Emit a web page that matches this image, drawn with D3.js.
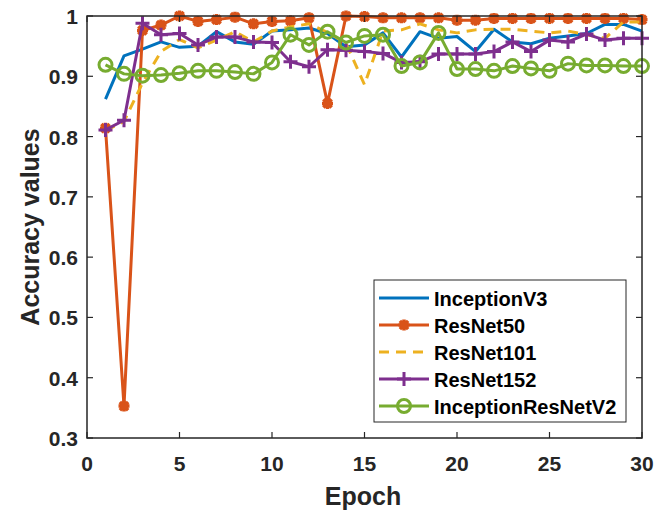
<!DOCTYPE html>
<html><head><meta charset="utf-8">
<script src="https://cdn.jsdelivr.net/npm/d3@7"></script>
<style>body{margin:0;background:#fff}svg{display:block}</style>
</head><body>
<svg id="c" width="656" height="518"></svg>
<script>
const epochs = d3.range(1, 31);
const inceptionV3 = [0.862,0.934,0.945,0.957,0.948,0.950,0.974,0.957,0.953,0.975,0.977,0.980,0.971,0.949,0.952,0.972,0.932,0.974,0.963,0.966,0.941,0.978,0.957,0.954,0.963,0.967,0.971,0.986,0.986,0.975];
const resNet50 = [0.814,0.353,0.976,0.985,1.000,0.991,0.994,0.998,0.987,0.991,0.992,0.997,0.855,1.000,0.999,0.997,0.997,0.997,0.997,0.993,0.993,0.996,0.996,0.996,0.996,0.996,0.996,0.996,0.996,0.994];
const resNet101 = [0.810,0.825,0.889,0.941,0.961,0.947,0.960,0.974,0.957,0.975,0.982,0.987,0.973,0.955,0.886,0.975,0.977,0.987,0.977,0.972,0.977,0.978,0.978,0.975,0.972,0.975,0.969,0.963,0.990,0.990];
const resNet152 = [0.811,0.827,0.988,0.969,0.971,0.952,0.965,0.965,0.957,0.956,0.924,0.916,0.944,0.943,0.941,0.938,0.923,0.924,0.937,0.937,0.937,0.941,0.957,0.941,0.960,0.957,0.970,0.960,0.963,0.963];
const inceptionResNetV2 = [0.919,0.904,0.901,0.902,0.905,0.909,0.909,0.907,0.904,0.923,0.969,0.952,0.974,0.956,0.967,0.969,0.917,0.923,0.972,0.912,0.912,0.909,0.917,0.913,0.909,0.921,0.918,0.918,0.917,0.917];
const seriesNames = ["InceptionV3","ResNet50","ResNet101","ResNet152","InceptionResNetV2"];
const xTicks = [0,5,10,15,20,25,30];
const yTicks = [0.3,0.4,0.5,0.6,0.7,0.8,0.9,1];

const series = [
  {name: seriesNames[0], values: inceptionV3, color: "#0072BD", dash: null, marker: null},
  {name: seriesNames[1], values: resNet50, color: "#D95319", dash: null, marker: "star"},
  {name: seriesNames[2], values: resNet101, color: "#EDB120", dash: "10,7", marker: null},
  {name: seriesNames[3], values: resNet152, color: "#7E2F8E", dash: null, marker: "plus"},
  {name: seriesNames[4], values: inceptionResNetV2, color: "#77AC30", dash: null, marker: "circle"}
];

const svg = d3.select("#c");
const L = 87, R = 642, T = 16, B = 438;
const x = d3.scaleLinear().domain([0,30]).range([L,R]);
const y = d3.scaleLinear().domain([0.3,1]).range([B,T]);
const font = "'Liberation Sans', Arial, sans-serif";

const plot = svg.append("g");
const clipId = "clip";
svg.append("defs").append("clipPath").attr("id", clipId).append("rect")
  .attr("x", L-20).attr("y", T-20).attr("width", R-L+40).attr("height", B-T+40);

function drawMarker(g, type, cx, cy, color) {
  if (type === "star") {
    const s = 5.5, d = s*0.75;
    g.append("path").attr("d",
      `M${cx-s},${cy}L${cx+s},${cy}M${cx},${cy-s}L${cx},${cy+s}M${cx-d},${cy-d}L${cx+d},${cy+d}M${cx-d},${cy+d}L${cx+d},${cy-d}`)
      .attr("stroke", color).attr("stroke-width", 3.5).attr("fill","none");
    g.append("circle").attr("cx",cx).attr("cy",cy).attr("r",4).attr("fill",color);
  } else if (type === "plus") {
    const s = 7;
    g.append("path").attr("d", `M${cx-s},${cy}L${cx+s},${cy}M${cx},${cy-s}L${cx},${cy+s}`)
      .attr("stroke", color).attr("stroke-width", 3).attr("fill","none");
  } else if (type === "circle") {
    g.append("circle").attr("cx",cx).attr("cy",cy).attr("r",6.5)
      .attr("stroke", color).attr("stroke-width", 3).attr("fill","none");
  }
}

const line = d3.line().x((d,i)=>x(epochs[i])).y(d=>y(d));
series.forEach(s => {
  const g = plot.append("g").attr("clip-path", `url(#${clipId})`);
  g.append("path").datum(s.values).attr("d", line)
    .attr("fill","none").attr("stroke", s.color).attr("stroke-width", 3)
    .attr("stroke-dasharray", s.dash).attr("stroke-linejoin","round");
  if (s.marker) s.values.forEach((v,i) => drawMarker(g, s.marker, x(epochs[i]), y(v), s.color));
});

// axes box
const ax = svg.append("g");
ax.append("rect").attr("x",L).attr("y",T).attr("width",R-L).attr("height",B-T)
  .attr("fill","none").attr("stroke","#262626").attr("stroke-width",1.5);
const tl = 6;
xTicks.forEach(t => {
  ax.append("line").attr("x1",x(t)).attr("x2",x(t)).attr("y1",B).attr("y2",B-tl).attr("stroke","#262626").attr("stroke-width",1.2);
  ax.append("line").attr("x1",x(t)).attr("x2",x(t)).attr("y1",T).attr("y2",T+tl).attr("stroke","#262626").attr("stroke-width",1.2);
  ax.append("text").attr("x",x(t)).attr("y",B+33).attr("text-anchor","middle")
    .attr("font-family",font).attr("font-weight","bold").attr("font-size",21).attr("fill","#262626").text(t);
});
yTicks.forEach(t => {
  ax.append("line").attr("x1",L).attr("x2",L+tl).attr("y1",y(t)).attr("y2",y(t)).attr("stroke","#262626").attr("stroke-width",1.2);
  ax.append("line").attr("x1",R).attr("x2",R-tl).attr("y1",y(t)).attr("y2",y(t)).attr("stroke","#262626").attr("stroke-width",1.2);
  ax.append("text").attr("x",L-9).attr("y",y(t)+8).attr("text-anchor","end")
    .attr("font-family",font).attr("font-weight","bold").attr("font-size",21).attr("fill","#262626").text(d3.format("")(t));
});
ax.append("text").attr("x",363).attr("y",505).attr("text-anchor","middle")
  .attr("font-family",font).attr("font-weight","bold").attr("font-size",25).attr("fill","#262626").text("Epoch");
ax.append("text").attr("transform",`translate(39,${(T+B)/2}) rotate(-90)`).attr("text-anchor","middle")
  .attr("font-family",font).attr("font-weight","bold").attr("font-size",25).attr("fill","#262626").text("Accuracy values");

// legend
const lg = svg.append("g");
lg.append("rect").attr("x",374).attr("y",280).attr("width",252).attr("height",142)
  .attr("fill","#fff").attr("stroke","#262626").attr("stroke-width",1);
series.forEach((s,i) => {
  const ly = 298 + i*27;
  lg.append("line").attr("x1",379).attr("x2",429).attr("y1",ly).attr("y2",ly)
    .attr("stroke",s.color).attr("stroke-width",3).attr("stroke-dasharray", s.dash ? "10,7" : null);
  if (s.marker) drawMarker(lg, s.marker, 404, ly, s.color);
  lg.append("text").attr("x",434).attr("y",ly+8).attr("font-family",font).attr("font-weight","bold")
    .attr("font-size",20).attr("fill","#000").text(s.name);
});
</script>
</body></html>
